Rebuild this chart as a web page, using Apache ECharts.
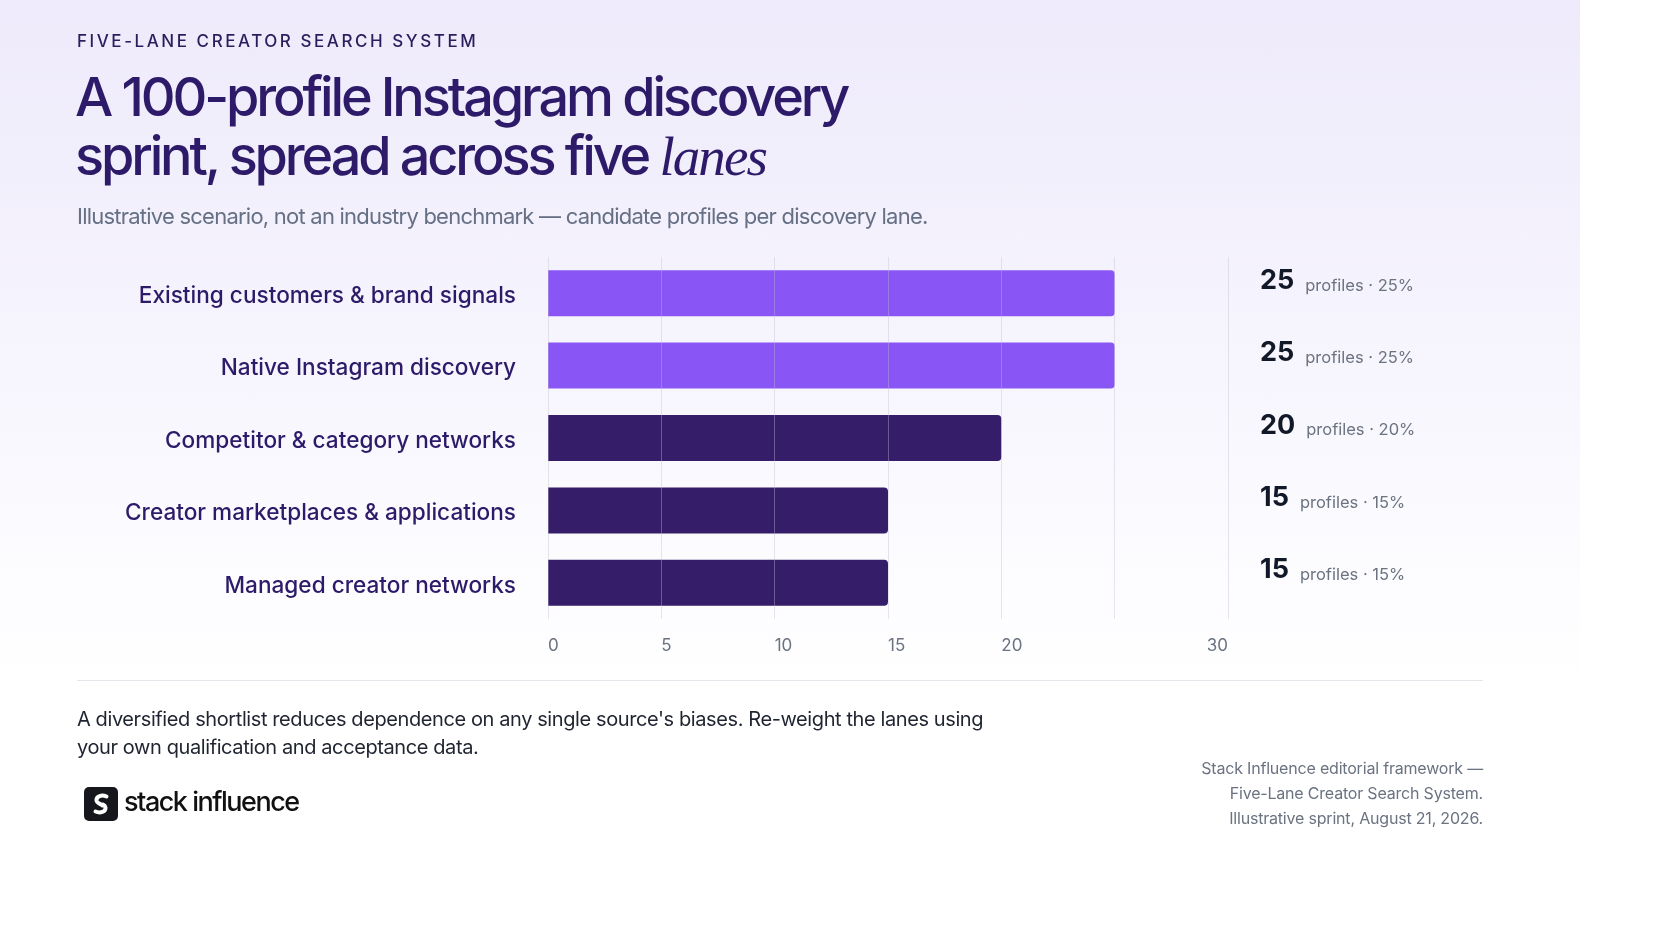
<!DOCTYPE html>
<html>
<head>
<meta charset="utf-8">
<script src="https://cdn.jsdelivr.net/npm/echarts@6/dist/echarts.min.js"></script>
<style>
  html, body { margin: 0; padding: 0; width: 1680px; height: 948px; background: #ffffff; overflow: hidden; }
  body { position: relative; font-family: Inter, "Noto Sans", sans-serif; }
  #panel { position: absolute; left: 0; top: 0; width: 1580px; height: 948px;
    background: linear-gradient(180deg, #EEEAFB 0px, #F5F3FD 300px, #FDFDFF 600px, #FFFFFF 700px); }
  #chart { position: absolute; left: 0; top: 0; width: 1680px; height: 948px; }
  .txt { position: absolute; white-space: nowrap; }
  #eyebrow { left: 77px; top: 31px; font-size: 17px; line-height: 20px; font-weight: 500;
    letter-spacing: 0.15em; color: #2B1E5C; }
  #title { left: 75px; top: 67px; font-size: 54px; line-height: 59px; font-weight: 500;
    letter-spacing: -0.058em; color: #2D1B69; }
  #title em { font-family: "Liberation Serif", "DejaVu Serif", serif; font-style: italic; font-weight: 400;
    font-size: 55px; letter-spacing: -0.035em; }
  #subtitle { left: 77px; top: 202px; font-size: 22px; line-height: 28px; color: #667085; letter-spacing: -0.035em; }
  #rule { position: absolute; left: 77px; top: 680px; width: 1406px; height: 1px; background: #E6E6EC; }
  #note { left: 77px; top: 705px; font-size: 20px; line-height: 28px; color: #1F2430; letter-spacing: -0.02em; }
  #source { right: 197px; top: 756px; font-size: 16px; line-height: 25px; color: #6B7280; text-align: right; letter-spacing: -0.012em; }
  #logo { position: absolute; left: 84px; top: 787px; width: 34px; height: 34px; border-radius: 5px; background: #16161D; }
  #brand { left: 124px; top: 785px; font-size: 27px; line-height: 34px; font-weight: 500; color: #111111; letter-spacing: -0.055em; }
</style>
</head>
<body>
<div id="panel"></div>
<div id="chart"></div>
<div class="txt" id="eyebrow">FIVE-LANE CREATOR SEARCH SYSTEM</div>
<div class="txt" id="title">A 100-profile Instagram discovery<br>sprint, spread across five <em>lanes</em></div>
<div class="txt" id="subtitle">Illustrative scenario, not an industry benchmark — candidate profiles per discovery lane.</div>
<div id="rule"></div>
<div class="txt" id="note">A diversified shortlist reduces dependence on any single source's biases. Re-weight the lanes using<br>your own qualification and acceptance data.</div>
<div class="txt" id="source">Stack Influence editorial framework —<br>Five-Lane Creator Search System.<br>Illustrative sprint, August 21, 2026.</div>
<div id="logo">
  <svg width="34" height="34" viewBox="0 0 34 34">
    <path d="M22.5 9.5 C18 7.5 12 9 12.5 13.5 C13 16.5 17 17 18.5 18.5" stroke="#fff" stroke-width="4" fill="none" stroke-linecap="round"/>
    <path d="M11.5 24.5 C16 26.5 22 25 21.5 20.5 C21.2 18.8 20 18 19 17.5" stroke="#fff" stroke-width="4" fill="none" stroke-linecap="round"/>
  </svg>
</div>
<div class="txt" id="brand">stack influence</div>
<script>
// candidate profiles per discovery lane (illustrative sprint of 100)
var lanes = [
  'Existing customers & brand signals',
  'Native Instagram discovery',
  'Competitor & category networks',
  'Creator marketplaces & applications',
  'Managed creator networks'
];
var profiles = [25, 25, 20, 15, 15];
var totalProfiles = 100;
// ticks that carry a label on the x axis (25 is left blank in the original)
var xTickLabels = [0, 5, 10, 15, 20, 30];

var chart = echarts.init(document.getElementById('chart'), null, { renderer: 'canvas' });

var option = {
  backgroundColor: 'transparent',
  animation: false,
  grid: { left: 548, top: 257, width: 680, height: 362, containLabel: false },
  xAxis: {
    type: 'value',
    min: 0,
    max: 30,
    interval: 5,
    z: 5,
    axisLine: { show: false },
    axisTick: { show: false },
    splitLine: { show: true, lineStyle: { color: 'rgba(190,188,208,0.38)', width: 1 } },
    axisLabel: {
      margin: 18,
      align: 'left',
      alignMaxLabel: 'right',
      color: '#6B7280',
      fontSize: 17,
      fontFamily: 'Inter',
      formatter: function (v) {
        return xTickLabels.indexOf(v) >= 0 ? String(v) : '';
      }
    }
  },
  yAxis: [{
    type: 'category',
    data: lanes,
    inverse: true,
    axisLine: { show: false },
    axisTick: { show: false },
    splitLine: { show: false },
    axisLabel: {
      margin: 32,
      verticalAlign: 'top',
      lineHeight: 6,
      color: '#2D1B69',
      fontSize: 22.6,
      fontWeight: 500,
      fontFamily: 'Inter'
    }
  }, {
    type: 'category',
    data: lanes,
    inverse: true,
    position: 'right',
    axisLine: { show: false },
    axisTick: { show: false },
    axisLabel: {
      margin: 32,
      align: 'left',
      padding: [0, 0, 30, 0],
      formatter: function (v, i) {
        var n = profiles[i];
        var pct = Math.round(n / totalProfiles * 100);
        return '{n|' + n + '}{p|profiles · ' + pct + '%}';
      },
      rich: {
        n: { fontSize: 27, fontWeight: 700, color: '#111827', fontFamily: 'Inter', padding: [0, 11, 0, 0], verticalAlign: 'bottom', lineHeight: 32 },
        p: { fontSize: 16.5, color: '#6B7280', fontFamily: 'Inter', verticalAlign: 'bottom', lineHeight: 31 }
      }
    }
  }],
  series: [{
    type: 'bar',
    data: profiles,
    barWidth: 46,
    z: 1,
    itemStyle: {
      borderRadius: [0, 4, 4, 0],
      color: function (p) {
        return p.value >= 25 ? '#8A55F5' : '#361D6A';
      }
    }
  }]
};

chart.setOption(option);
</script>
</body>
</html>
